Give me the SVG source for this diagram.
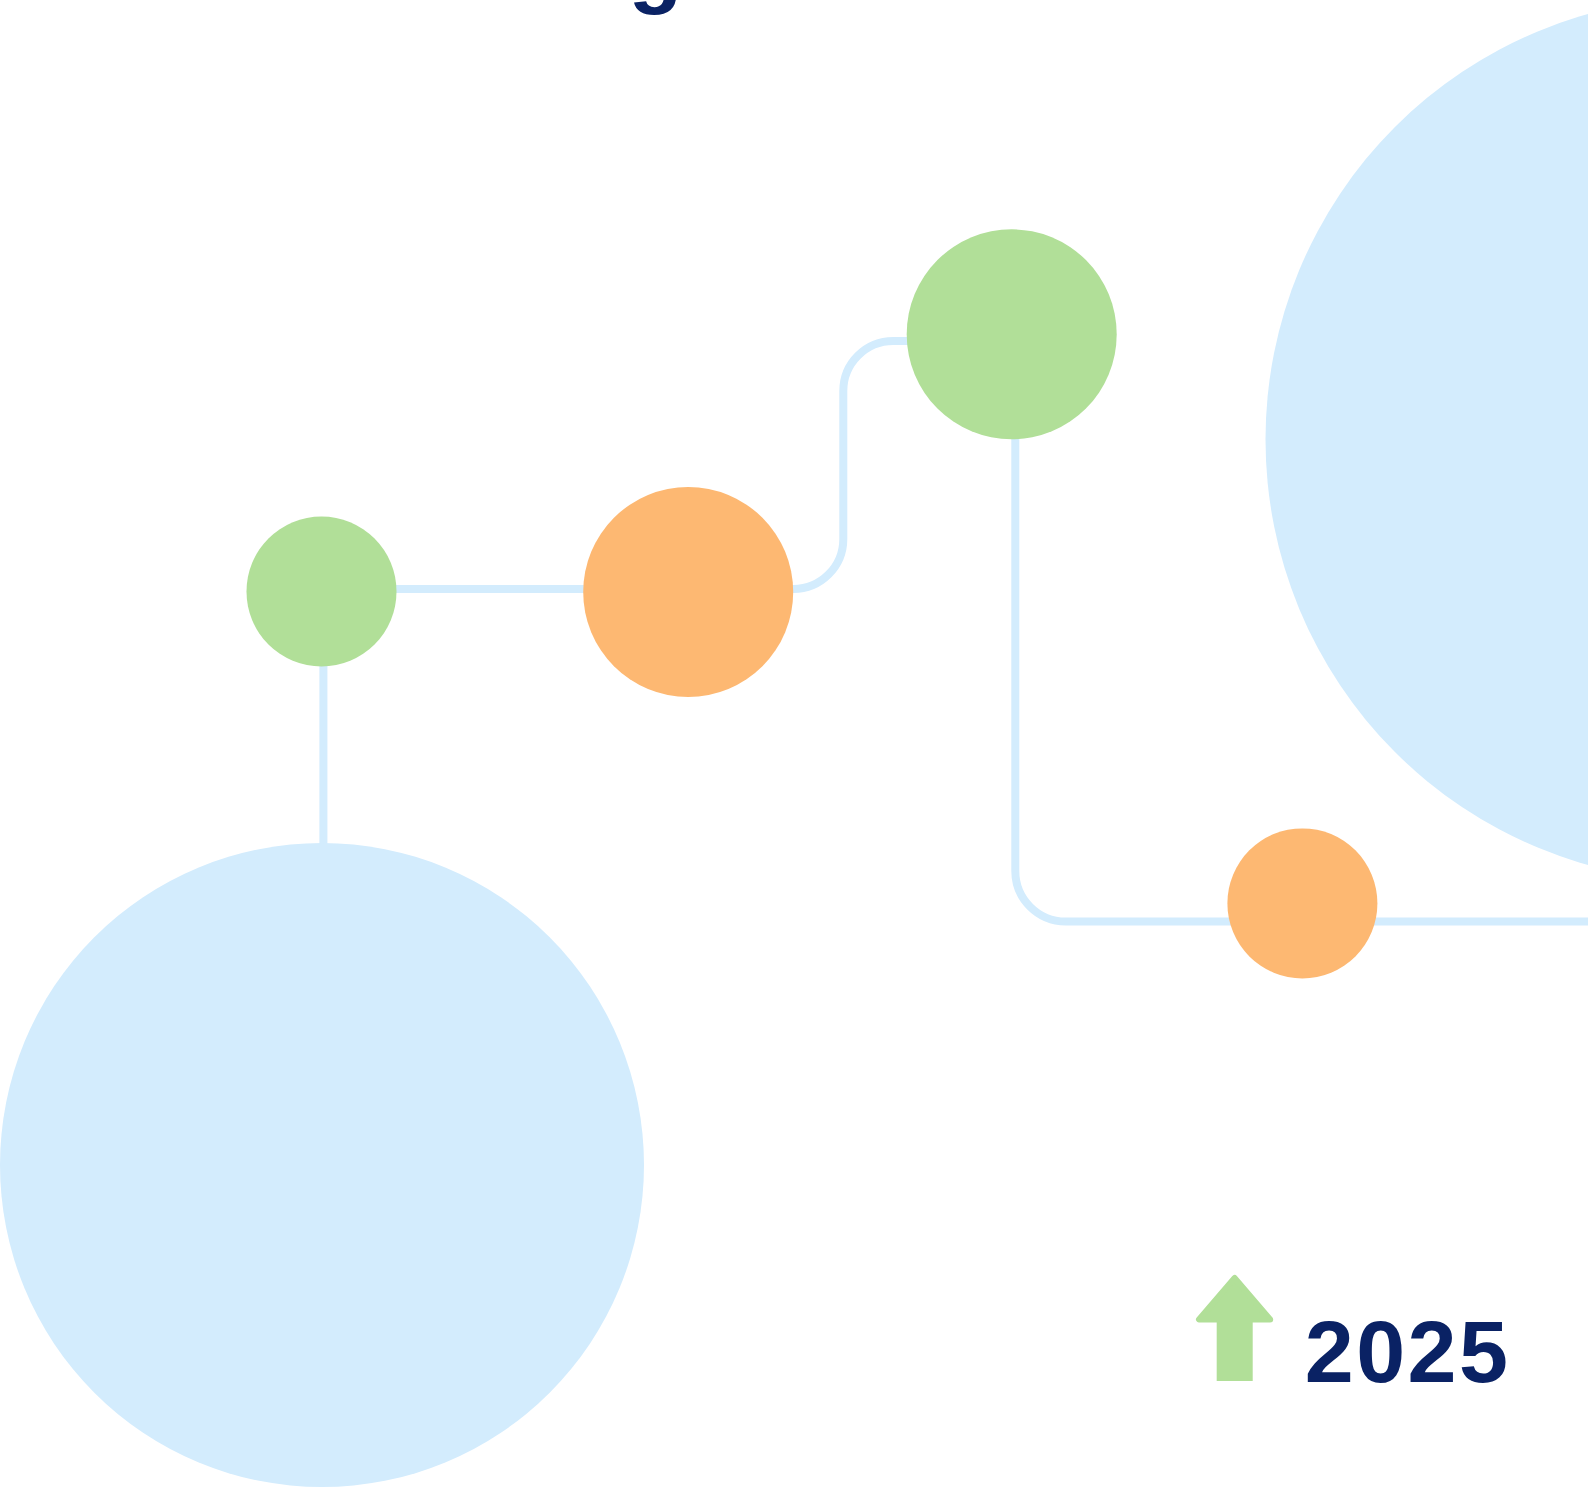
<svg xmlns="http://www.w3.org/2000/svg" width="1588" height="1487" viewBox="0 0 1588 1487">
  <style>
    .conn { fill: none; stroke: #D3ECFD; stroke-width: 8; }
    .green { fill: #B1DF98; }
    .orange { fill: #FDB872; }
    .blue { fill: #D3ECFD; }
    .label { font-family: "Liberation Sans", Arial, sans-serif; font-weight: bold; font-size: 88px; fill: #0A2264; }
  </style>
  <rect width="1588" height="1487" fill="#FFFFFF"/>
  <text class="label" x="628.5" y="-3.5">g</text>
  <g id="connectors">
    <path class="conn" d="M 323.4 592 V 850"/>
    <path class="conn" d="M 321.5 589 H 688"/>
    <path class="conn" d="M 688 589 H 793 A 50 50 0 0 0 843.3 539 V 391 A 50 50 0 0 1 893.3 341 H 1011.7"/>
    <path class="conn" d="M 1015.3 334 V 871 A 50.5 50.5 0 0 0 1065.8 921.5 H 1588"/>
  </g>
  <g id="big-circle-bottom-left">
    <circle class="blue" cx="322" cy="1165" r="322"/>
  </g>
  <g id="big-circle-right">
    <circle class="blue" cx="1707.5" cy="439.5" r="442"/>
  </g>
  <g id="node-green-1">
    <circle class="green" cx="321.5" cy="591.5" r="75"/>
  </g>
  <g id="node-orange-1">
    <circle class="orange" cx="688.2" cy="592" r="105"/>
  </g>
  <g id="node-green-2">
    <circle class="green" cx="1011.7" cy="334.3" r="105"/>
  </g>
  <g id="node-orange-2">
    <circle class="orange" cx="1302.4" cy="903.4" r="75"/>
  </g>
  <g id="year-label">
    <polygon class="green" points="1234.6,1278 1199,1319.5 1270.2,1319.5" stroke="#B1DF98" stroke-width="6" stroke-linejoin="round"/>
    <rect class="green" x="1216.7" y="1320" width="36" height="61"/>
    <text class="label" x="1304.7" y="1381.5" letter-spacing="2.5">2025</text>
  </g>
</svg>
